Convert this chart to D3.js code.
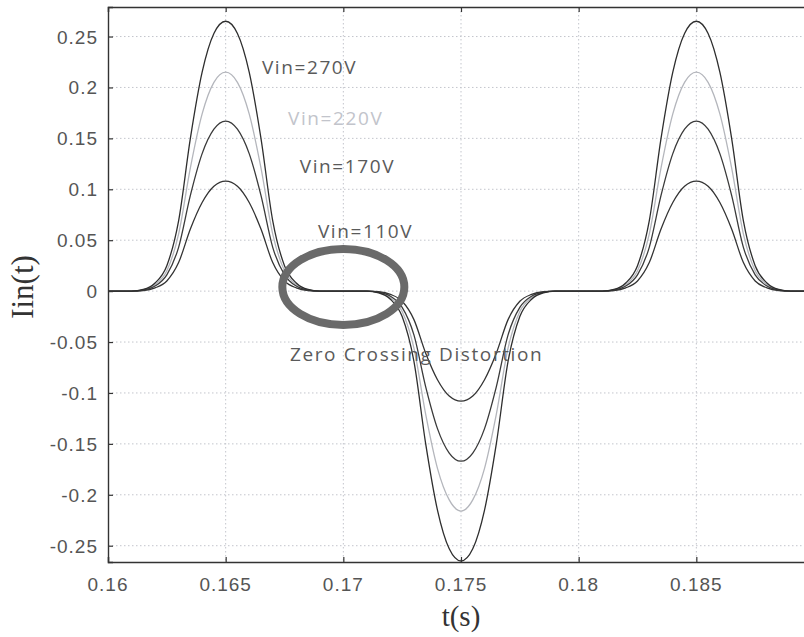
<!DOCTYPE html>
<html>
<head>
  <title>Iin(t) waveforms</title>
  <script src="https://d3js.org/d3.v7.min.js"></script>
  <style>
    body { margin: 0; background: #fff; }
    .tick-label { font-family: "Liberation Sans", Arial, sans-serif; font-size: 19px; letter-spacing: 1px; fill: #555; }
    .note { font-family: "Open Sans", sans-serif; font-size: 19px; letter-spacing: 1.6px; }
    .axis-title { font-family: "Liberation Serif", "Times New Roman", serif; fill: #333; }
  </style>
</head>
<body>
<div id="chart"></div>
<script>
  // time samples (s)
  let tValues = [0.160,
    0.1610, 0.1615, 0.1620, 0.1625, 0.1630, 0.1635, 0.1640, 0.1645, 0.1650, 0.1655, 0.1660, 0.1665, 0.1670, 0.1675, 0.1680, 0.1685, 0.1690,
    0.1710, 0.1715, 0.1720, 0.1725, 0.1730, 0.1735, 0.1740, 0.1745, 0.1750, 0.1755, 0.1760, 0.1765, 0.1770, 0.1775, 0.1780, 0.1785, 0.1790,
    0.1810, 0.1815, 0.1820, 0.1825, 0.1830, 0.1835, 0.1840, 0.1845, 0.1850, 0.1855, 0.1860, 0.1865, 0.1870, 0.1875, 0.1880, 0.1885, 0.1890,
    0.190];

  let iin270 = [0,
    0, 0.0016, 0.008, 0.025, 0.069, 0.150, 0.215, 0.253, 0.265, 0.253, 0.215, 0.150, 0.069, 0.025, 0.008, 0.0016, 0,
    0, -0.0016, -0.008, -0.025, -0.069, -0.150, -0.215, -0.253, -0.265, -0.253, -0.215, -0.150, -0.069, -0.025, -0.008, -0.0016, 0,
    0, 0.0016, 0.008, 0.025, 0.069, 0.150, 0.215, 0.253, 0.265, 0.253, 0.215, 0.150, 0.069, 0.025, 0.008, 0.0016, 0,
    0];
  let iin220 = [0,
    0, 0.0013, 0.0065, 0.020, 0.056, 0.121, 0.174, 0.205, 0.215, 0.205, 0.174, 0.121, 0.056, 0.020, 0.0065, 0.0013, 0,
    0, -0.0013, -0.0065, -0.020, -0.056, -0.121, -0.174, -0.205, -0.216, -0.205, -0.174, -0.121, -0.056, -0.020, -0.0065, -0.0013, 0,
    0, 0.0013, 0.0065, 0.020, 0.056, 0.121, 0.174, 0.205, 0.215, 0.205, 0.174, 0.121, 0.056, 0.020, 0.0065, 0.0013, 0,
    0];
  let iin170 = [0,
    0, 0.001, 0.005, 0.016, 0.043, 0.094, 0.135, 0.159, 0.167, 0.159, 0.135, 0.094, 0.043, 0.016, 0.005, 0.001, 0,
    0, -0.001, -0.005, -0.016, -0.043, -0.094, -0.135, -0.159, -0.167, -0.159, -0.135, -0.094, -0.043, -0.016, -0.005, -0.001, 0,
    0, 0.001, 0.005, 0.016, 0.043, 0.094, 0.135, 0.159, 0.167, 0.159, 0.135, 0.094, 0.043, 0.016, 0.005, 0.001, 0,
    0];
  let iin110 = [0,
    0, 0.0006, 0.0032, 0.010, 0.028, 0.061, 0.087, 0.103, 0.108, 0.103, 0.087, 0.061, 0.028, 0.010, 0.0032, 0.0006, 0,
    0, -0.0006, -0.0032, -0.010, -0.028, -0.061, -0.087, -0.103, -0.108, -0.103, -0.087, -0.061, -0.028, -0.010, -0.0032, -0.0006, 0,
    0, 0.0006, 0.0032, 0.010, 0.028, 0.061, 0.087, 0.103, 0.108, 0.103, 0.087, 0.061, 0.028, 0.010, 0.0032, 0.0006, 0,
    0];

  let seriesNames = ['Vin=270V', 'Vin=220V', 'Vin=170V', 'Vin=110V'];
  let seriesValues = [iin270, iin220, iin170, iin110];
  let seriesColors = ['#2e2e2e', '#b4b6bc', '#3a3a3a', '#333333'];

  let xTicks = [0.16, 0.165, 0.17, 0.175, 0.18, 0.185];
  let yTicks = [-0.25, -0.2, -0.15, -0.1, -0.05, 0, 0.05, 0.1, 0.15, 0.2, 0.25];

  // label anchor points (t, value) for the series names
  let labelT = [0.16654, 0.16765, 0.16815, 0.16892];
  let labelV = [0.213, 0.163, 0.116, 0.052];

  let width = 804, height = 637;
  let margin = { top: 7, left: 108, bottom: 75 };
  let plotRight = 814;

  let svg = d3.select('#chart').append('svg')
    .attr('width', width)
    .attr('height', height);

  let x = d3.scaleLinear().domain([0.16, 0.19]).range([margin.left, plotRight]);
  let y = d3.scaleLinear().domain([-0.266, 0.279]).range([height - margin.bottom, margin.top]);

  svg.append('defs').append('clipPath').attr('id', 'clip')
    .append('rect')
    .attr('x', margin.left).attr('y', margin.top)
    .attr('width', plotRight - margin.left).attr('height', y(-0.266) - margin.top);

  // grid
  let grid = svg.append('g');
  grid.selectAll('.gx').data(xTicks.slice(1)).enter().append('line')
    .attr('x1', d => x(d)).attr('x2', d => x(d))
    .attr('y1', margin.top).attr('y2', y(-0.266))
    .attr('stroke', '#c3c5cc').attr('stroke-width', 1).attr('stroke-dasharray', '1.5,2.5');
  grid.selectAll('.gy').data(yTicks).enter().append('line')
    .attr('x1', margin.left).attr('x2', plotRight)
    .attr('y1', d => y(d)).attr('y2', d => y(d))
    .attr('stroke', '#c3c5cc').attr('stroke-width', 1).attr('stroke-dasharray', '1.5,2.5');

  // curves
  let line = d3.line()
    .x((d, i) => x(tValues[i]))
    .y(d => y(d))
    .curve(d3.curveMonotoneX);

  let curves = svg.append('g').attr('clip-path', 'url(#clip)');
  [1, 3, 2, 0].forEach(k => {
    curves.append('path')
      .attr('d', line(seriesValues[k]))
      .attr('fill', 'none')
      .attr('stroke', seriesColors[k])
      .attr('stroke-width', 1.3);
  });

  // axes (ticks inside)
  let bottomAxis = d3.axisBottom(x).tickValues(xTicks).tickSize(-5).tickFormat('');
  let topAxis = d3.axisTop(x).tickValues(xTicks).tickSize(-5).tickFormat('');
  let leftAxis = d3.axisLeft(y).tickValues(yTicks).tickSize(-5).tickFormat('');

  let gb = svg.append('g').attr('transform', 'translate(0,' + y(-0.266) + ')').call(bottomAxis);
  let gt = svg.append('g').attr('transform', 'translate(0,' + margin.top + ')').call(topAxis);
  let gl = svg.append('g').attr('transform', 'translate(' + margin.left + ',0)').call(leftAxis);
  [gb, gt, gl].forEach(g => {
    g.select('.domain').attr('stroke', '#333').attr('stroke-width', 1.4);
    g.selectAll('.tick line').attr('stroke', '#333').attr('stroke-width', 1.2);
  });

  // tick labels
  svg.selectAll('.xl').data(xTicks).enter().append('text')
    .attr('class', 'tick-label')
    .attr('x', d => x(d))
    .attr('y', 591)
    .attr('text-anchor', 'middle')
    .text(d => d);
  svg.selectAll('.yl').data(yTicks).enter().append('text')
    .attr('class', 'tick-label')
    .attr('x', 98)
    .attr('y', d => y(d) + 7)
    .attr('text-anchor', 'end')
    .text(d => d === 0 ? '0' : d);

  // axis titles
  svg.append('text')
    .attr('class', 'axis-title')
    .attr('x', x(0.175))
    .attr('y', 626)
    .attr('text-anchor', 'middle')
    .style('font-size', '29px')
    .text('t(s)');
  svg.append('text')
    .attr('class', 'axis-title')
    .attr('transform', 'translate(33,287) rotate(-90)')
    .attr('text-anchor', 'middle')
    .style('font-size', '31px')
    .text('Iin(t)');

  // series labels
  svg.selectAll('.sl').data(seriesNames).enter().append('text')
    .attr('class', 'note')
    .attr('x', (d, i) => x(labelT[i]))
    .attr('y', (d, i) => y(labelV[i]))
    .attr('fill', (d, i) => i === 1 ? '#c2c4cb' : '#5a5a5a')
    .text(d => d);

  // zero crossing annotation
  svg.append('ellipse')
    .attr('cx', x(0.17))
    .attr('cy', y(0.004))
    .attr('rx', 61)
    .attr('ry', 38)
    .attr('fill', 'none')
    .attr('stroke', '#6a6a6a')
    .attr('stroke-width', 8);

  svg.append('text')
    .attr('class', 'note')
    .attr('x', 290)
    .attr('y', 361)
    .attr('fill', '#5a5a5a')
    .text('Zero Crossing Distortion');
</script>
</body>
</html>
